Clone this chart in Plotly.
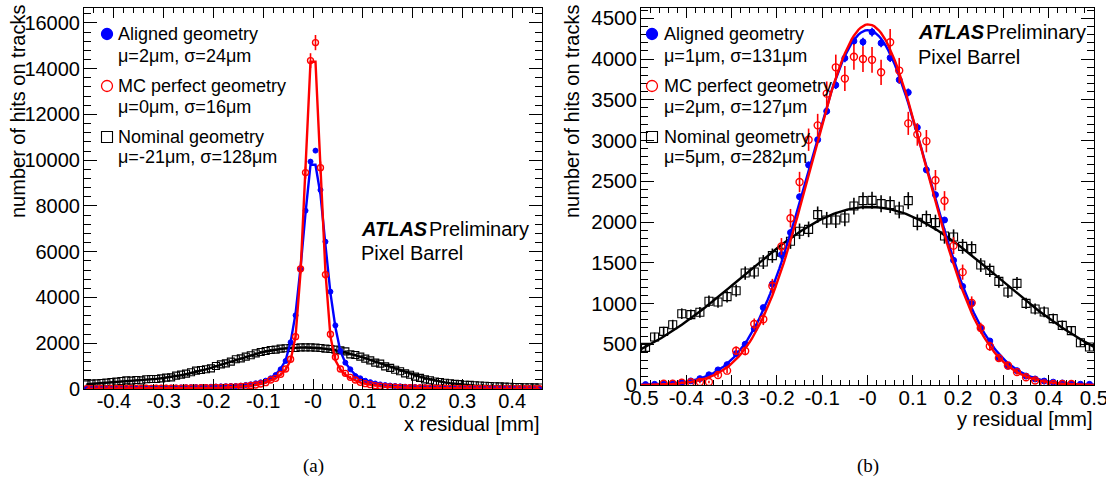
import numpy as np
import plotly.graph_objects as go

W, H = 1106, 484

# ---------------- Panel (a): x residual, 92 bins of 0.01 mm in [-0.46, 0.46]
A_BIN_LO, A_BIN_HI, A_NBINS = -0.46, 0.46, 92

a_aligned = [25, 28, 30, 30, 32, 35, 35, 38, 40, 42,
             45, 48, 50, 52, 55, 58, 60, 62, 65, 70,
             75, 80, 85, 90, 95, 100, 108, 115, 122, 128,
             131, 146, 175, 204, 248, 291, 364, 466, 612, 860,
             1224, 2040, 3220, 5230, 7795, 9937, 10418, 8698, 6440, 4254,
             2780, 1661, 1151, 860, 568, 466, 360, 300, 240, 200,
             170, 150, 130, 115, 100, 92, 85, 78, 72, 66,
             62, 58, 55, 52, 50, 48, 45, 43, 41, 40,
             38, 36, 35, 34, 33, 32, 31, 30, 30, 29, 28, 28]
a_mc = [15, 18, 15, 20, 18, 22, 20, 25, 22, 25,
        28, 25, 30, 28, 32, 30, 35, 33, 38, 40,
        42, 45, 48, 52, 55, 60, 65, 70, 78, 85,
        95, 110, 125, 150, 175, 218, 277, 393, 466, 641,
        874, 1297, 2287, 5250, 9456, 14351, 15138, 9674, 5000, 2390,
        1400, 874, 685, 510, 393, 291, 233, 190, 146, 117,
        100, 88, 78, 70, 62, 55, 50, 45, 42, 38,
        35, 32, 30, 28, 26, 25, 23, 22, 21, 20,
        19, 18, 17, 16, 16, 15, 15, 14, 14, 13, 13, 12]
a_nominal = [204, 233, 248, 262, 277, 306, 321, 350, 379, 364,
             393, 379, 423, 437, 437, 466, 495, 510, 583, 627,
             670, 729, 801, 830, 860, 903, 1005, 1078, 1122, 1195,
             1297, 1340, 1413, 1472, 1559, 1617, 1661, 1705, 1719, 1763,
             1778, 1792, 1792, 1821, 1821, 1821, 1807, 1792, 1763, 1748,
             1719, 1690, 1646, 1515, 1486, 1413, 1326, 1253, 1151, 1107,
             990, 921, 838, 776, 684, 622, 540, 486, 419, 380,
             330, 305, 270, 252, 226, 214, 186, 180, 165, 152,
             141, 134, 118, 114, 103, 100, 90, 88, 79, 77, 70, 66]

# fitted curves of panel (a), read at the bin centres
a_aligned_fit = [24, 25, 25, 26, 27, 28, 29, 30, 31, 32,
                 33, 35, 36, 38, 40, 42, 44, 46, 49, 52,
                 55, 59, 63, 68, 73, 79, 86, 94, 104, 116,
                 130, 148, 172, 205, 245, 300, 375, 480, 640, 880,
                 1250, 2050, 3300, 5300, 7700, 9800, 9800, 8500, 6300, 4200,
                 2700, 1650, 1150, 850, 620, 480, 380, 310, 255, 212,
                 180, 155, 135, 118, 105, 94, 85, 77, 70, 64,
                 59, 55, 51, 48, 45, 43, 41, 39, 37, 35,
                 34, 33, 32, 31, 30, 29, 28, 27, 27, 26, 25, 25]
a_mc_fit = [9, 10, 10, 10, 11, 11, 12, 12, 13, 13,
            14, 15, 16, 17, 18, 19, 20, 22, 24, 26,
            28, 31, 34, 38, 42, 47, 53, 60, 68, 78,
            90, 105, 125, 150, 185, 230, 290, 370, 470, 620,
            850, 1250, 2300, 5100, 9500, 14300, 14300, 9500, 5100, 2300,
            1250, 850, 620, 470, 370, 290, 230, 185, 150, 125,
            105, 90, 78, 68, 60, 53, 47, 42, 38, 34,
            31, 28, 26, 24, 22, 20, 19, 18, 17, 16,
            15, 14, 13, 13, 12, 12, 11, 11, 10, 10, 10, 9]
a_nominal_fit = [208, 223, 238, 253, 268, 283, 298, 314, 330, 346,
                 363, 381, 400, 420, 442, 467, 495, 525, 560, 600,
                 643, 690, 740, 795, 855, 920, 990, 1060, 1130, 1200,
                 1270, 1340, 1410, 1475, 1535, 1590, 1640, 1683, 1720, 1750,
                 1774, 1792, 1804, 1810, 1811, 1806, 1795, 1778, 1755, 1725,
                 1688, 1645, 1595, 1540, 1480, 1415, 1345, 1272, 1197, 1120,
                 1043, 965, 888, 812, 738, 667, 600, 537, 478, 424,
                 375, 331, 292, 258, 228, 202, 180, 162, 147, 134,
                 124, 115, 108, 101, 95, 90, 86, 82, 78, 75, 72, 69]

# ---------------- Panel (b): y residual, 50 bins of 0.02 mm in [-0.5, 0.5]
B_BIN_LO, B_BIN_HI, B_NBINS = -0.5, 0.5, 50

b_aligned = [5, 8, 12, 20, 32, 50, 78, 125, 185, 250,
             385, 500, 690, 950, 1240, 1600, 1870, 2310, 2700, 3010,
             3360, 3680, 4010, 4220, 4210, 4330, 4195, 4015, 3745, 3590,
             3160, 2640, 2335, 2025, 1530, 1210, 1000, 700, 540, 335,
             230, 176, 110, 74, 48, 35, 25, 16, 10, 8]
b_mc = [None, None, 16, 16, 29, 33, 37, 37, 123, 176,
        421, 417, 748, 806, 1215, 1700, 2047, 2491, 3010, 3186,
        3575, 3898, 3760, 4027, 4000, 3990, 3837, 4205, 3858, 3210,
        3075, 2992, 2513, 2260, 1710, 1385, 1008, 698, 476, 330,
        240, 158, 95, 55, 20, 12, 12, 12, None, None]
b_nominal = [462, 589, 658, 740, 875, 863, 892, 1027, 1018, 1084,
             1157, 1374, 1387, 1509, 1587, 1628, 1763, 1886, 1910, 2090,
             2025, 2025, 2049, 2196, 2262, 2266, 2225, 2213, 2147, 2262,
             1996, 2041, 1992, 1828, 1816, 1701, 1673, 1472, 1407, 1272,
             1141, 1247, 1002, 933, 896, 814, 732, 667, 519, 466]

# Gaussian fits of panel (b): (mean [mm], sigma [mm], amplitude [hits])
b_fit_aligned = (0.001, 0.131, 4355)
b_fit_mc = (0.002, 0.127, 4425)
b_fit_nominal = (0.005, 0.282, 2185)

# statistical error scale factors (error = k * sqrt(N))
ERR_K = {"a_aligned": 1.0, "a_mc": 2.7, "a_nominal": 1.0,
         "b_aligned": 0.8, "b_mc": 2.5, "b_nominal": 2.2}

legend_a = [("Aligned geometry", "\u03bc=2\u03bcm, \u03c3=24\u03bcm"),
            ("MC perfect geometry", "\u03bc=0\u03bcm, \u03c3=16\u03bcm"),
            ("Nominal geometry", "\u03bc=-21\u03bcm, \u03c3=128\u03bcm")]
legend_b = [("Aligned geometry", "\u03bc=1\u03bcm, \u03c3=131\u03bcm"),
            ("MC perfect geometry", "\u03bc=2\u03bcm, \u03c3=127\u03bcm"),
            ("Nominal geometry", "\u03bc=5\u03bcm, \u03c3=282\u03bcm")]

a_xticks = [-0.4, -0.3, -0.2, -0.1, 0.0, 0.1, 0.2, 0.3, 0.4]
a_xticktext = ["-0.4", "-0.3", "-0.2", "-0.1", "-0", "0.1", "0.2", "0.3", "0.4"]
b_xticks = [-0.5, -0.4, -0.3, -0.2, -0.1, 0.0, 0.1, 0.2, 0.3, 0.4, 0.5]
b_xticktext = ["-0.5", "-0.4", "-0.3", "-0.2", "-0.1", "-0", "0.1", "0.2", "0.3", "0.4", "0.5"]
a_yticks = [0, 2000, 4000, 6000, 8000, 10000, 12000, 14000, 16000]
b_yticks = [0, 500, 1000, 1500, 2000, 2500, 3000, 3500, 4000, 4500]

# ---------------------------------------------------------------------------
BLUE, RED, BLACK = "#0000ff", "#ff0000", "#000000"
FONT = "Liberation Sans, Arial, Helvetica, sans-serif"

def centers(lo, hi, n):
    edges = np.linspace(lo, hi, n + 1)
    return 0.5 * (edges[:-1] + edges[1:])

def errs(vals, k):
    return [None if v is None else k * np.sqrt(v) for v in vals]

def gauss(x, p):
    mu, sig, amp = p
    return amp * np.exp(-0.5 * ((x - mu) / sig) ** 2)

xa = centers(A_BIN_LO, A_BIN_HI, A_NBINS)
xb = centers(B_BIN_LO, B_BIN_HI, B_NBINS)
xb_fit = np.linspace(B_BIN_LO, B_BIN_HI, 201)

fig = go.Figure()

def add_points(x, y, k, color, symbol, size, lw, xa_, ya_):
    fig.add_trace(go.Scatter(
        x=x, y=y, mode="markers", xaxis=xa_, yaxis=ya_, showlegend=False,
        marker=dict(symbol=symbol, size=size, color=color, line=dict(color=color, width=lw)),
        error_y=dict(type="data", array=errs(y, k), visible=True, color=color, thickness=1.6, width=0),
        cliponaxis=True))

def add_line(x, y, color, xa_, ya_):
    fig.add_trace(go.Scatter(x=x, y=y, mode="lines", xaxis=xa_, yaxis=ya_, showlegend=False,
                             line=dict(color=color, width=2.4)))

# panel (a)
add_points(xa, a_nominal, ERR_K["a_nominal"], BLACK, "square-open", 7, 1.1, "x", "y")
add_line(xa, a_nominal_fit, BLACK, "x", "y")
add_points(xa, a_aligned, ERR_K["a_aligned"], BLUE, "circle", 5, 1, "x", "y")
add_line(xa, a_aligned_fit, BLUE, "x", "y")
add_points(xa, a_mc, ERR_K["a_mc"], RED, "circle-open", 6, 1.4, "x", "y")
add_line(xa, a_mc_fit, RED, "x", "y")

# panel (b)
add_points(xb, b_nominal, ERR_K["b_nominal"], BLACK, "square-open", 8, 1.1, "x2", "y2")
add_line(xb_fit, gauss(xb_fit, b_fit_nominal), BLACK, "x2", "y2")
add_points(xb, b_aligned, ERR_K["b_aligned"], BLUE, "circle", 6, 1, "x2", "y2")
add_line(xb_fit, gauss(xb_fit, b_fit_aligned), BLUE, "x2", "y2")
add_points(xb, b_mc, ERR_K["b_mc"], RED, "circle-open", 7, 1.4, "x2", "y2")
add_line(xb_fit, gauss(xb_fit, b_fit_mc), RED, "x2", "y2")

def px(x):
    return x / W

def py(y):
    return 1 - y / H

axis_common = dict(showline=True, linecolor="black", linewidth=1, mirror="ticks",
                   ticks="inside", tickcolor="black", tickwidth=1, showgrid=False,
                   zeroline=False, tickmode="array", automargin=False)

TICKFONT_A = dict(size=20, family=FONT, color="black")
TICKFONT_B = dict(size=20.5, family=FONT, color="black")

fig.update_layout(
    width=W, height=H, margin=dict(l=0, r=0, t=0, b=0, autoexpand=False),
    paper_bgcolor="white", plot_bgcolor="white",
    font=dict(family=FONT, color="black"),
    xaxis=dict(domain=[px(84), px(542)], range=[A_BIN_LO, A_BIN_HI], anchor="y",
               tickvals=a_xticks, ticktext=a_xticktext, ticklen=10,
               tickfont=TICKFONT_A, ticklabelstandoff=-6, ticklabeloverflow="allow",
               minor=dict(tickmode="linear", tick0=0, dtick=0.02, ticks="inside", ticklen=5,
                          tickcolor="black", showgrid=False),
               **axis_common),
    yaxis=dict(domain=[py(389), py(8)], range=[0, 16650], anchor="x",
               tickvals=a_yticks, ticktext=[str(v) for v in a_yticks], ticklen=13,
               tickfont=TICKFONT_A, ticklabelstandoff=-1,
               minor=dict(tickmode="linear", tick0=0, dtick=400, ticks="inside", ticklen=7,
                          tickcolor="black", showgrid=False),
               **axis_common),
    xaxis2=dict(domain=[px(641), px(1094)], range=[B_BIN_LO, B_BIN_HI], anchor="y2",
                tickvals=b_xticks, ticktext=b_xticktext, ticklen=10,
                tickfont=TICKFONT_B, ticklabelstandoff=-6, ticklabeloverflow="allow",
                minor=dict(tickmode="linear", tick0=0, dtick=0.02, ticks="inside", ticklen=5,
                           tickcolor="black", showgrid=False),
                **axis_common),
    yaxis2=dict(domain=[py(385), py(8)], range=[0, 4626], anchor="x2",
                tickvals=b_yticks, ticktext=[str(v) for v in b_yticks], ticklen=13,
                tickfont=TICKFONT_B, ticklabelstandoff=-1,
                minor=dict(tickmode="linear", tick0=0, dtick=100, ticks="inside", ticklen=7,
                           tickcolor="black", showgrid=False),
                **axis_common),
)

ann = []
def text(x, y, s, size=18, xanchor="left", yanchor="middle", family=FONT, angle=0):
    ann.append(dict(x=px(x), y=py(y), xref="paper", yref="paper", text=s, showarrow=False,
                    xanchor=xanchor, yanchor=yanchor, textangle=angle,
                    font=dict(size=size, family=family, color="black")))

# legends
rows_y = [(34, 56), (86, 107), (137, 157)]
for (name, stats), (y1, y2) in zip(legend_a, rows_y):
    text(116, y1, name)
    text(116, y2, stats)
for (name, stats), (y1, y2) in zip(legend_b, rows_y):
    text(662, y1, name)
    text(662, y2, stats)

shapes = []
def marker_shape(cx, cy, kind, color):
    r = 5.5
    d = dict(xref="paper", yref="paper", x0=px(cx - r), x1=px(cx + r),
             y0=py(cy + r), y1=py(cy - r), line=dict(color=color, width=1.3))
    if kind == "filled":
        d.update(type="circle", fillcolor=color)
    elif kind == "open":
        d.update(type="circle")
    else:
        d.update(type="rect", line=dict(color=color, width=1.1))
    shapes.append(d)

for cx in (107, 652):
    marker_shape(cx, 34, "filled", BLUE)
    marker_shape(cx, 86, "open", RED)
    marker_shape(cx, 137, "square", BLACK)

# ATLAS labels
text(359, 229, "<b><i>ATLAS</i></b>", size=20)
text(427, 229, "Preliminary", size=20)
text(359, 253, "Pixel Barrel", size=20)
text(916, 32, "<b><i>ATLAS</i></b>", size=20)
text(984, 32, "Preliminary", size=20)
text(916, 57, "Pixel Barrel", size=20)

# axis titles
text(18, 112, "number of hits on tracks", size=20, xanchor="center", yanchor="middle", angle=-90)
text(572, 112, "number of hits on tracks", size=20, xanchor="center", yanchor="middle", angle=-90)
text(542, 424, "x residual [mm]", size=20, xanchor="right")
text(1095, 419, "y residual [mm]", size=20, xanchor="right")

# panel labels
text(313, 466, "(a)", size=19, xanchor="center", family="Liberation Serif, Times New Roman, serif")
text(868, 466, "(b)", size=19, xanchor="center", family="Liberation Serif, Times New Roman, serif")

fig.update_layout(annotations=ann, shapes=shapes)
fig.write_html("out.html")
